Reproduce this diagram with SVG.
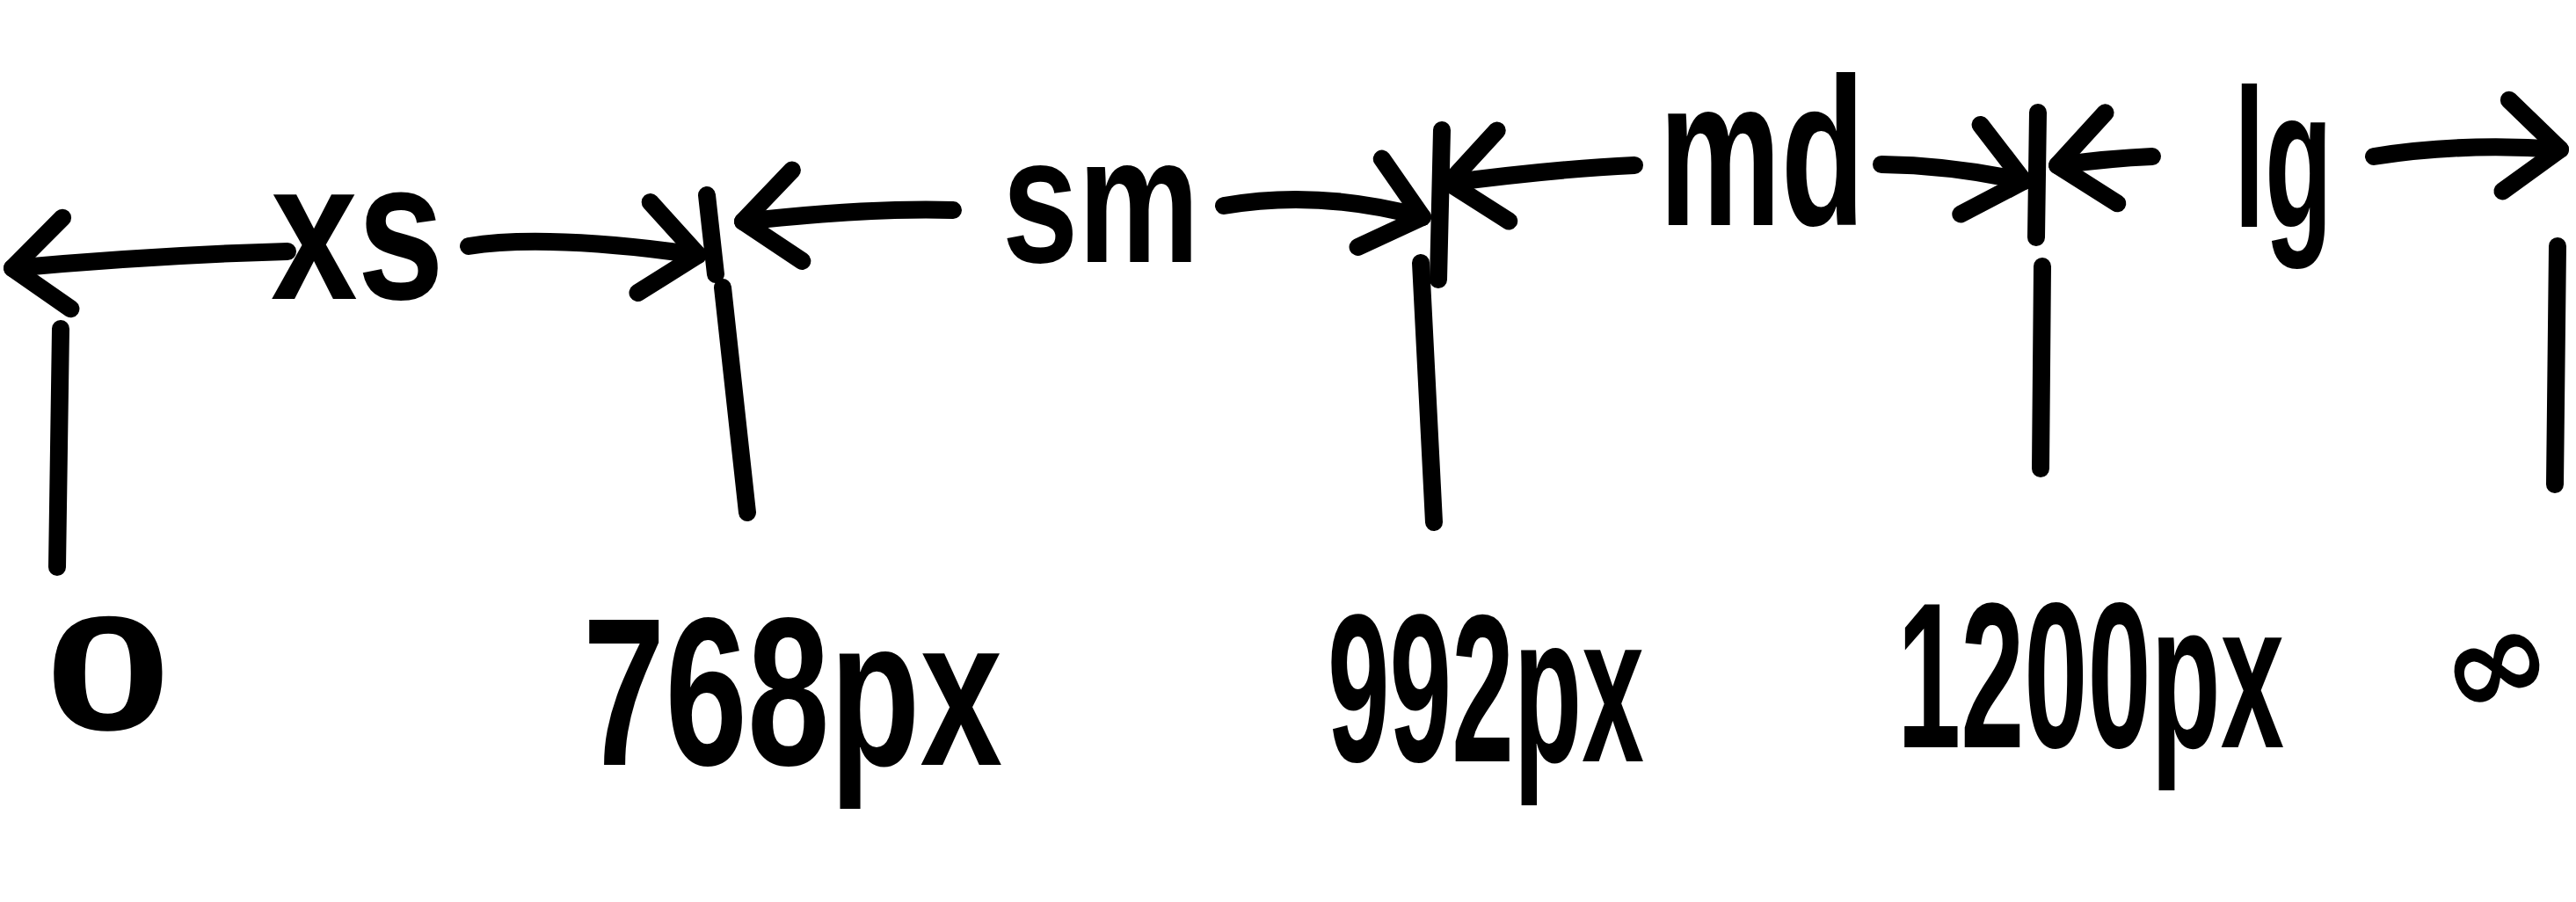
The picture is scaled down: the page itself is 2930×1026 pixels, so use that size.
<svg xmlns="http://www.w3.org/2000/svg" width="2930" height="1026" viewBox="0 0 2930 1026">
<style>
.ink{fill:none;stroke:#000;stroke-width:20;stroke-linecap:round;stroke-linejoin:round}
.lbl{font-family:"Liberation Sans",Arial,sans-serif;font-weight:bold;fill:#000}
.sym{font-family:"DejaVu Sans",sans-serif;font-weight:bold;fill:#000}
</style>
<defs>
<marker id="ah" markerUnits="userSpaceOnUse" viewBox="-80 -65 100 130" refX="0" refY="0" markerWidth="100" markerHeight="130" orient="auto" overflow="visible">
<path d="M-62,-52 L0,0 L-62,52" fill="none" stroke="#000" stroke-width="20" stroke-linecap="round" stroke-linejoin="round"/>
</marker>
</defs>
<rect width="2930" height="1026" fill="#fff"/>

<g id="connectors">
<path class="ink" d="M327,286 Q180,290 14,305" marker-end="url(#ah)"/>
<path class="ink" d="M533,280 Q620,266 794,290" marker-end="url(#ah)"/>
<path class="ink" d="M804,222 L814,312"/>
<path class="ink" d="M1084,239 Q990,236 845,252" marker-end="url(#ah)"/>
<path class="ink" d="M1392,234 Q1500,215 1618,247" marker-end="url(#ah)"/>
<path class="ink" d="M1640,148 L1636,318"/>
<path class="ink" d="M1859,188 Q1770,192 1648,208" marker-end="url(#ah)"/>
<path class="ink" d="M2140,187 Q2220,188 2302,206" marker-end="url(#ah)"/>
<path class="ink" d="M2318,128 L2316,270"/>
<path class="ink" d="M2448,178 Q2400,180 2340,188" marker-end="url(#ah)"/>
<path class="ink" d="M2700,178 Q2800,162 2912,170" marker-end="url(#ah)"/>
</g>

<g id="range-xs"><text class="lbl" font-size="225" transform="translate(308,340) scale(0.788,1)">xs</text></g>
<g id="range-sm"><text class="lbl" font-size="205" transform="translate(1140,298) scale(0.757,1)">sm</text></g>
<g id="range-md"><text class="lbl" font-size="240" transform="translate(1887,256) scale(0.65,1)">md</text></g>
<g id="range-lg"><text class="lbl" font-size="225" transform="translate(2541,258) scale(0.56,1)">lg</text></g>

<g id="bp-0">
<path class="ink" d="M69,374 L65,645"/>
<text class="lbl" font-size="185" transform="translate(51,830) scale(1.4,1)">0</text>
</g>
<g id="bp-768">
<path class="ink" d="M822,327 L850,583"/>
<text class="lbl" font-size="240" transform="translate(663,870) scale(0.701,1)">768px</text>
</g>
<g id="bp-992">
<path class="ink" d="M1616,299 L1631,594"/>
<text class="lbl" font-size="240" transform="translate(1510,866) scale(0.529,1)">992px</text>
</g>
<g id="bp-1200">
<path class="ink" d="M2323,303 L2321,533"/>
<text class="lbl" font-size="235" transform="translate(2158,850) scale(0.552,1)">1200px</text>
</g>
<g id="bp-inf">
<path class="ink" d="M2909,280 L2906,551"/>
<text class="sym" x="2838" y="805" font-size="150" text-anchor="middle" transform="rotate(-20 2838 755)">∞</text>
</g>
</svg>
